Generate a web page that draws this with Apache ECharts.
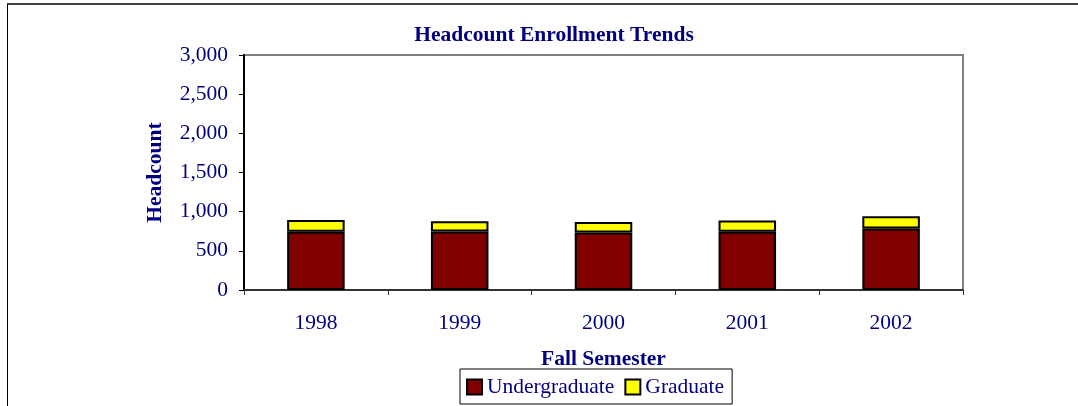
<!DOCTYPE html>
<html>
<head>
<meta charset="utf-8">
<script src="https://cdn.jsdelivr.net/npm/echarts@6/dist/echarts.min.js"></script>
<style>
  html, body { margin: 0; padding: 0; background: #fff; }
  #chart { width: 1078px; height: 406px; }
</style>
</head>
<body>
<div id="chart"></div>
<script>
// data
var years = ['1998', '1999', '2000', '2001', '2002'];
var undergraduate = [745, 748, 735, 745, 785];
var graduate = [148, 130, 132, 142, 158];
var yTicks = { min: 0, max: 3000, interval: 500 };

var navy = '#000080';
var serif = '"Liberation Serif", "Times New Roman", serif';
var fs = 21.5;

var chart = echarts.init(document.getElementById('chart'));
chart.setOption({
  animation: false,
  title: {
    text: 'Headcount Enrollment Trends',
    left: 549,
    textAlign: 'center',
    top: 19,
    textStyle: { fontFamily: serif, fontSize: fs, fontWeight: 'bold', color: navy }
  },
  // outer frame: top and left only
  graphic: [
    { type: 'line', shape: { x1: 7, y1: 4, x2: 1078, y2: 4 }, style: { stroke: '#404040', lineWidth: 2 } },
    { type: 'line', shape: { x1: 7.5, y1: 4, x2: 7.5, y2: 406 }, style: { stroke: '#000', lineWidth: 1 } }
  ],
  grid: {
    left: 244, top: 55, right: 115, bottom: 116,
    show: true, borderColor: '#808080', borderWidth: 2
  },
  legend: {
    left: 460, top: 369,
    padding: [7, 8, 6, 6],
    itemGap: 10,
    itemWidth: 15, itemHeight: 15,
    icon: 'rect',
    borderColor: '#000', borderWidth: 1,
    textStyle: { fontFamily: serif, fontSize: fs, color: navy },
    data: ['Undergraduate', 'Graduate']
  },
  xAxis: {
    type: 'category',
    data: years,
    name: 'Fall Semester',
    nameLocation: 'middle',
    nameGap: 58,
    nameTextStyle: { fontFamily: serif, fontSize: fs, fontWeight: 'bold', color: navy },
    axisLine: { lineStyle: { color: '#333', width: 2 } },
    axisTick: { show: true, length: 5, lineStyle: { color: '#333' } },
    axisLabel: { fontFamily: serif, fontSize: fs, color: navy, margin: 22 }
  },
  yAxis: {
    type: 'value',
    min: yTicks.min, max: yTicks.max, interval: yTicks.interval,
    name: 'Headcount',
    nameLocation: 'middle',
    nameRotate: 90,
    nameGap: 78,
    nameTextStyle: { fontFamily: serif, fontSize: fs, fontWeight: 'bold', color: navy },
    axisLine: { show: true, lineStyle: { color: '#000', width: 2 } },
    axisTick: { show: true, length: 5, lineStyle: { color: '#000' } },
    splitLine: { show: false },
    axisLabel: {
      fontFamily: serif, fontSize: fs, color: navy, margin: 16,
      formatter: function (v) { return v.toLocaleString('en-US'); }
    }
  },
  series: [
    {
      name: 'Undergraduate', type: 'bar', stack: 'total', barWidth: '40%',
      data: undergraduate,
      itemStyle: { color: '#800000', borderColor: '#000', borderWidth: 2 }
    },
    {
      name: 'Graduate', type: 'bar', stack: 'total', barWidth: '40%',
      data: graduate,
      itemStyle: { color: '#ffff00', borderColor: '#000', borderWidth: 2 }
    }
  ]
});
</script>
</body>
</html>
